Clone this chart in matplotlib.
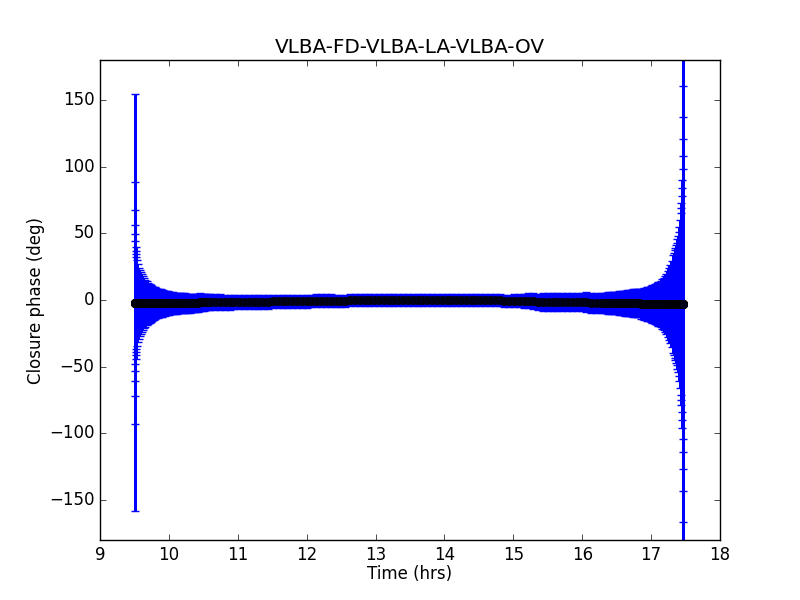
# -*- coding: utf-8 -*-

import numpy as np
import matplotlib
matplotlib.use('Agg')
import matplotlib.pyplot as plt

plt.style.use('classic')

# closure phase VLBA-FD / VLBA-LA / VLBA-OV
t_hrs = [
    9.510, 9.511, 9.512, 9.513, 9.514, 9.515, 9.516, 9.517, 9.518, 9.519,
    9.535, 9.550, 9.565, 9.580, 9.595, 9.610, 9.625, 9.640,
    9.66, 9.68, 9.70, 9.72, 9.74, 9.76, 9.78, 9.80, 9.82, 9.84, 9.86, 9.88,
    9.90, 9.92, 9.94, 9.96, 9.98, 10.00,
    10.03, 10.06, 10.09, 10.12, 10.15, 10.18, 10.21, 10.24, 10.27, 10.30,
    10.33, 10.36, 10.39, 10.42, 10.45, 10.48, 10.51, 10.54, 10.57, 10.60,
    10.67, 10.74, 10.81, 10.88, 10.95, 11.02, 11.09, 11.16, 11.23, 11.30,
    11.37, 11.44, 11.51, 11.58, 11.65, 11.72, 11.79, 11.86, 11.93, 12.00,
    12.07, 12.14, 12.21, 12.28, 12.35, 12.42, 12.49, 12.56, 12.63, 12.70,
    12.77, 12.84, 12.91, 12.98, 13.05, 13.12, 13.19, 13.26, 13.33, 13.40,
    13.47, 13.54, 13.61, 13.68, 13.75, 13.82, 13.89, 13.96, 14.03, 14.10,
    14.17, 14.24, 14.31, 14.38, 14.45, 14.52, 14.59, 14.66, 14.73, 14.80,
    14.87, 14.94, 15.01, 15.08, 15.15, 15.22, 15.29, 15.36, 15.43, 15.50,
    15.57, 15.64, 15.71, 15.78, 15.85, 15.92, 15.99, 16.06, 16.13, 16.20,
    16.27,
    16.32, 16.35, 16.38, 16.41, 16.44, 16.47, 16.50, 16.53, 16.56, 16.59,
    16.62, 16.65, 16.68, 16.71, 16.74, 16.77, 16.80, 16.83, 16.86,
    16.88, 16.90, 16.92, 16.94, 16.96, 16.98, 17.00, 17.02, 17.04, 17.06,
    17.08, 17.10, 17.12, 17.14, 17.16, 17.18, 17.20, 17.22, 17.24, 17.26,
    17.28, 17.30, 17.32,
    17.33, 17.34, 17.35, 17.36, 17.37, 17.38, 17.39, 17.40, 17.41, 17.42,
    17.430, 17.435, 17.440, 17.445, 17.450, 17.453, 17.456, 17.459, 17.462,
    17.465, 17.468, 17.470,
]

phase_deg = [
    -2.0, -2.4, -2.3, -2.4, -2.1, -2.0, -2.2, -2.2, -2.2, -2.2,
    -2.3, -2.3, -2.3, -2.3, -2.3, -2.3, -2.3, -2.3,
    -2.4, -2.4, -2.4, -2.4, -2.4, -2.4, -2.4, -2.4, -2.4, -2.4, -2.4, -2.4,
    -2.4, -2.4, -2.4, -2.4, -2.4, -2.4,
    -2.4, -2.4, -2.4, -2.4, -2.4, -2.4, -2.4, -2.4, -2.4, -2.4,
    -2.4, -2.4, -2.4, -2.4, -1.6, -1.6, -1.6, -1.6, -1.6, -1.6,
    -1.6, -1.6, -1.6, -1.6, -1.6, -1.6, -1.6, -1.6, -1.6, -1.6,
    -1.6, -1.6, -1.0, -1.0, -1.0, -1.0, -1.0, -1.0, -1.0, -1.0,
    -1.0, -0.4, -0.4, -0.4, -0.4, -0.4, -0.4, -0.4, 0.0, 0.0,
    0.0, 0.0, 0.0, 0.0, 0.0, 0.0, 0.0, 0.0, 0.0, 0.0,
    0.0, 0.0, 0.0, 0.0, 0.0, 0.0, 0.0, 0.0, 0.0, 0.0,
    0.0, 0.0, 0.0, 0.0, 0.0, 0.0, 0.0, 0.0, 0.0, 0.0,
    -0.6, -0.6, -0.6, -0.6, -0.6, -0.6, -0.6, -1.5, -1.5, -1.5,
    -1.5, -1.5, -1.5, -1.5, -1.5, -1.5, -1.5, -1.5, -2.3, -2.3,
    -2.3,
    -2.3, -2.3, -2.3, -2.3, -2.3, -2.3, -2.3, -2.3, -2.3, -2.3,
    -2.3, -2.3, -2.3, -2.3, -2.3, -2.3, -2.3, -2.3, -3.0,
    -3.0, -3.0, -3.0, -3.0, -3.0, -3.0, -3.0, -3.0, -3.0, -3.0,
    -3.0, -3.0, -3.0, -3.0, -3.0, -3.0, -3.0, -3.0, -3.0, -3.0,
    -3.0, -3.0, -3.0,
    -3.0, -3.0, -3.0, -3.0, -3.0, -3.0, -3.0, -3.0, -3.0, -3.0,
    -3.0, -3.0, -3.0, -3.0, -3.0, -3.0, -3.0, -3.0, -3.0,
    -3.0, -3.0, -3.0,
]

err_deg = [
    156.3, 90.8, 69.7, 58.4, 51.4, 46.3, 42.3, 39.0, 36.6, 34.4,
    32.4, 29.0, 26.6, 24.9, 23.2, 21.7, 20.2, 18.9,
    17.5, 16.3, 15.4, 14.6, 13.8, 13.1, 12.5, 11.9, 11.4, 11.0, 10.7, 10.4,
    10.1, 9.8, 9.5, 9.2, 9.0, 8.7,
    8.4, 8.2, 8.0, 7.8, 7.7, 7.5, 7.4, 7.3, 7.1, 7.0,
    6.9, 6.8, 6.7, 6.6, 6.5, 6.4, 6.3, 6.2, 6.1, 6.0,
    5.9, 5.8, 5.7, 5.6, 5.5, 5.4, 5.3, 5.2, 5.1, 5.1,
    5.0, 5.0, 4.9, 4.9, 4.8, 4.8, 4.8, 4.7, 4.7, 4.7,
    4.6, 4.6, 4.6, 4.6, 4.6, 4.5, 4.5, 4.5, 4.5, 4.5,
    4.5, 4.5, 4.5, 4.5, 4.5, 4.5, 4.4, 4.4, 4.4, 4.4,
    4.4, 4.4, 4.4, 4.4, 4.4, 4.4, 4.4, 4.4, 4.4, 4.4,
    4.4, 4.4, 4.5, 4.5, 4.5, 4.5, 4.5, 4.5, 4.5, 4.5,
    4.6, 4.6, 4.8, 5.0, 5.2, 5.5, 5.8, 6.1, 6.4, 6.6,
    6.7, 6.8, 6.9, 7.0, 7.0, 7.1, 7.1, 7.2, 7.2, 7.3,
    7.4,
    7.6, 7.8, 8.0, 8.1, 8.2, 8.4, 8.5, 8.7, 8.9, 9.2,
    9.4, 9.6, 9.8, 10.0, 10.2, 10.4, 10.6, 10.8, 11.2,
    11.5, 11.8, 12.1, 12.4, 12.7, 13.0, 13.5, 14.0, 14.6, 15.2,
    15.8, 16.3, 16.8, 17.6, 18.6, 19.8, 21.2, 22.8, 24.7, 26.8,
    29.3, 32.5, 36.5,
    38.5, 40.5, 42.0, 44.0, 46.0, 48.5, 51.0, 54.0, 58.0, 63.0,
    68.0, 72.0, 76.0, 81.0, 87.0, 93.0, 101.5, 111.0, 124.0,
    140.5, 163.5, 260.0,
]

fig = plt.figure(figsize=(8, 6), dpi=100, facecolor='w')
ax = fig.add_subplot(111)

eb = ax.errorbar(t_hrs, phase_deg, yerr=err_deg, fmt='o', color='b', ecolor='b',
                 mfc='#000018', mec='k', ms=6, capsize=3, capthick=1)
# the real scans are packed much tighter than these samples, so widen each
# bar to the gap to its neighbours to get the same solid blue band
gap_px = np.gradient(np.array(t_hrs)) * 620.0 / 9.0
bars = eb[2][0]
bars.set_linewidth(list(np.clip(gap_px * 0.72 * 1.6, 0.85, 5.0)))
bars.set_antialiased(False)

# last scan: marker not covered by the next one
ax.plot(t_hrs[-1], phase_deg[-1], 'o', mfc='b', mec='k', ms=6)

ax.set_xlim(9, 18)
ax.set_ylim(-180, 180)
ax.set_xticks(np.arange(9, 19, 1))
ax.set_yticks(np.arange(-150, 151, 50))
ax.set_xlabel('Time (hrs)', labelpad=1)
ax.set_ylabel('Closure phase (deg)', labelpad=3)
ax.set_title('VLBA-FD-VLBA-LA-VLBA-OV')

fig.savefig('out.png', dpi=100, facecolor='w')
